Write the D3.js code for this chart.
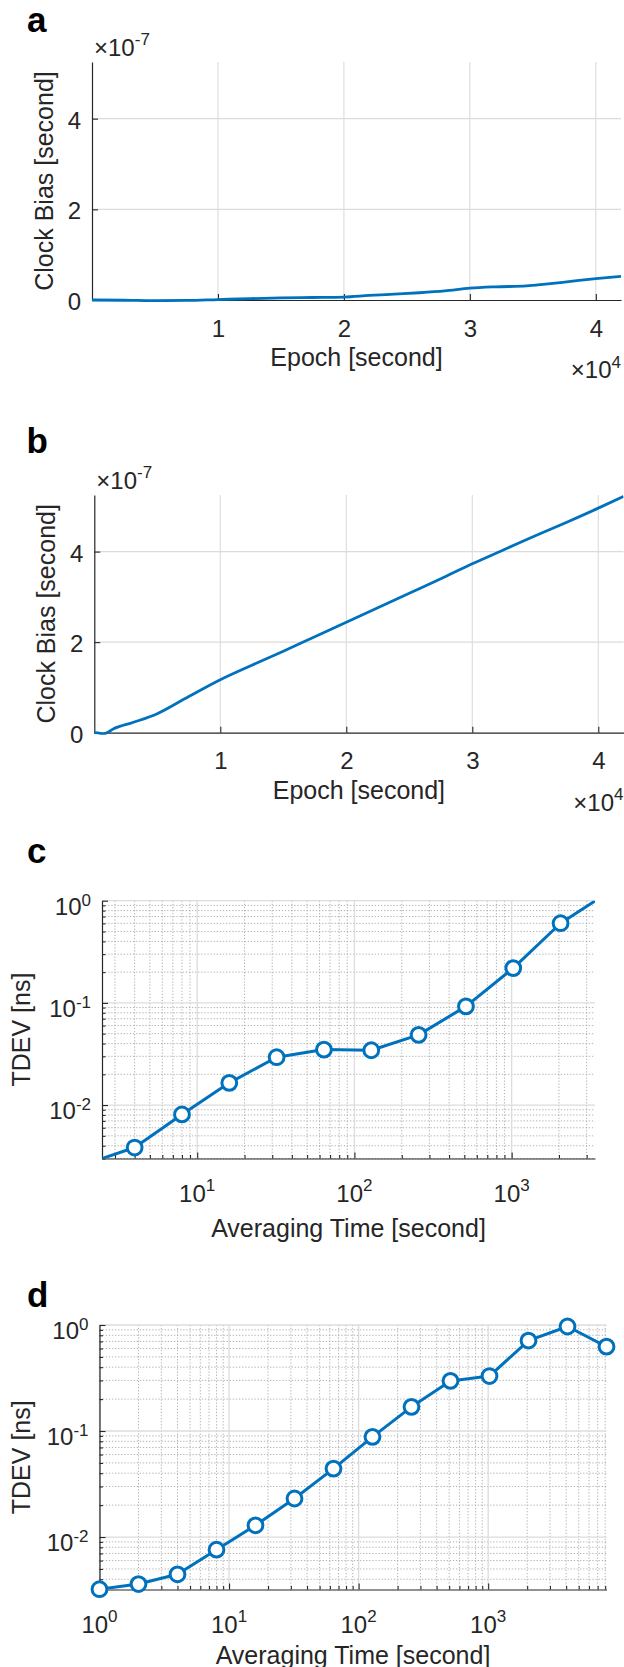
<!DOCTYPE html>
<html>
<head>
<meta charset="utf-8">
<script src="https://cdn.jsdelivr.net/npm/d3@7"></script>
<style>
  html, body { margin: 0; padding: 0; background: #fff; }
  svg { display: block; font-family: "Liberation Sans", Arial, Helvetica, sans-serif; }
</style>
</head>
<body>
<svg id="fig" width="624" height="1667"></svg>
<script>
// ---- data -------------------------------------------------------------
// (a) clock bias, epoch [s] vs bias [s]
const epochA = [0, 2500, 5000, 7500, 10000, 12500, 15000, 17500, 20000, 22000, 24000,
                26000, 28000, 30000, 32000, 34500, 36000, 38000, 40000, 42000];
const biasA  = [0, -0.005e-7, -0.015e-7, -0.01e-7, 0.01e-7, 0.03e-7, 0.045e-7, 0.055e-7,
                0.065e-7, 0.10e-7, 0.13e-7, 0.16e-7, 0.20e-7, 0.26e-7, 0.29e-7, 0.31e-7,
                0.35e-7, 0.41e-7, 0.47e-7, 0.52e-7];

// (b) clock bias, epoch [s] vs bias [s]
const epochB = [0, 400, 700, 1000, 1500, 3000, 5000, 7500, 10000, 12500, 15000, 17500,
                20000, 22500, 25000, 27500, 30000, 32500, 35000, 37500, 40000, 42000];
const biasB  = [0, -0.01e-7, -0.03e-7, 0, 0.08e-7, 0.22e-7, 0.42e-7, 0.80e-7, 1.17e-7,
                1.49e-7, 1.80e-7, 2.12e-7, 2.44e-7, 2.76e-7, 3.08e-7, 3.40e-7, 3.73e-7,
                4.04e-7, 4.35e-7, 4.65e-7, 4.96e-7, 5.22e-7];

// (c) TDEV [ns] vs averaging time [s]
const tauC  = [2, 4, 8, 16, 32, 64, 128, 256, 512, 1024, 2048, 4096];
const tdevC = [0.00268, 0.00384, 0.0081, 0.0165, 0.0294, 0.0349, 0.0344, 0.0486,
               0.0925, 0.219, 0.602, 1.20];

// (d) TDEV [ns] vs averaging time [s]
const tauD  = [1, 2, 4, 8, 16, 32, 64, 128, 256, 512, 1024, 2048, 4096, 8192];
const tdevD = [0.00322, 0.0036, 0.00445, 0.0076, 0.0129, 0.0231, 0.0442, 0.0880,
               0.169, 0.297, 0.330, 0.713, 0.968, 0.625];

// tick values
const epochTicks = [10000, 20000, 30000, 40000];
const biasTicks  = [0, 2e-7, 4e-7];

// ---- style ------------------------------------------------------------
const svg = d3.select('#fig');
const INK = '#262626';
const BLUE = '#0072BD';
const GRID = '#dcdcdc';
const MINOR = '#a9a9a9';
const TICK_FS = 24;
const LABEL_FS = 25;
const SUP_FS = 17;

function panelLetter(letter, x, y) {
  svg.append('text').attr('x', x).attr('y', y)
    .attr('font-size', 35).attr('font-weight', 'bold').attr('fill', '#000')
    .text(letter);
}

function powerText(g, x, y, base, exp, anchor, fs, supFs, rise) {
  const t = g.append('text').attr('x', x).attr('y', y)
    .attr('text-anchor', anchor).attr('fill', INK).attr('font-size', fs);
  t.append('tspan').text(base);
  t.append('tspan').attr('font-size', supFs).attr('dy', -rise).text(exp);
  return t;
}

function styleAxis(ax) {
  ax.attr('font-size', null).attr('font-family', null);
  ax.select('.domain').attr('stroke', INK).attr('stroke-width', 1.2);
  ax.selectAll('.tick line').attr('stroke', INK).attr('stroke-width', 1.1);
}

let clipId = 0;
function clipRect(p, pad) {
  const id = 'clip' + (clipId++);
  svg.append('clipPath').attr('id', id).append('rect')
    .attr('x', p.left).attr('y', p.top - pad)
    .attr('width', p.right - p.left).attr('height', p.bottom - p.top + 2 * pad);
  return `url(#${id})`;
}

// ---- linear clock bias panel -----------------------------------------
function linearPanel(p) {
  const g = svg.append('g');
  const x = d3.scaleLinear().domain([0, 42000]).range([p.left, p.right]);
  const y = d3.scaleLinear().domain([0, 5.25e-7]).range([p.bottom, p.top]);

  // grid
  g.append('g').selectAll('line').data(epochTicks).join('line')
    .attr('x1', d => x(d)).attr('x2', d => x(d))
    .attr('y1', p.top).attr('y2', p.bottom)
    .attr('stroke', GRID).attr('stroke-width', 1.1);
  g.append('g').selectAll('line').data(biasTicks.filter(d => d > 0)).join('line')
    .attr('x1', p.left).attr('x2', p.right)
    .attr('y1', d => y(d)).attr('y2', d => y(d))
    .attr('stroke', GRID).attr('stroke-width', 1.1);

  // axes
  const ax = g.append('g').attr('transform', `translate(0,${p.bottom})`)
    .call(d3.axisBottom(x).tickValues(epochTicks).tickSizeInner(-6).tickSizeOuter(0)
      .tickFormat(d => d / 1e4));
  styleAxis(ax);
  ax.selectAll('.tick text').attr('y', 36.5).attr('dy', null)
    .attr('font-size', TICK_FS).attr('fill', INK);

  const ay = g.append('g').attr('transform', `translate(${p.left},0)`)
    .call(d3.axisLeft(y).tickValues(biasTicks).tickSizeInner(-6).tickSizeOuter(0)
      .tickFormat(d => Math.round(d / 1e-7)));
  styleAxis(ay);
  ay.selectAll('.tick text').attr('x', -11).attr('dy', '0.4em')
    .attr('font-size', TICK_FS).attr('fill', INK);

  // data line
  const line = d3.line().x(d => x(d[0])).y(d => y(d[1])).curve(d3.curveMonotoneX);
  g.append('path').datum(d3.zip(p.epoch, p.bias))
    .attr('clip-path', clipRect(p, 2))
    .attr('d', line).attr('fill', 'none')
    .attr('stroke', BLUE).attr('stroke-width', 2.8).attr('stroke-linejoin', 'round');

  // exponent labels
  powerText(g, p.left + 2, p.top - 6.5, '×10', '-7', 'start', TICK_FS, SUP_FS, 10.5);
  powerText(g, p.right, p.bottom + 78, '×10', '4', 'end', TICK_FS, SUP_FS, 10.5);

  // axis titles
  g.append('text').attr('x', (p.left + p.right) / 2).attr('y', p.bottom + 66)
    .attr('text-anchor', 'middle').attr('font-size', LABEL_FS).attr('fill', INK)
    .text('Epoch [second]');
  g.append('text')
    .attr('transform', `translate(${p.left - 39},${(p.top + p.bottom) / 2}) rotate(-90)`)
    .attr('text-anchor', 'middle').attr('font-size', LABEL_FS).attr('fill', INK)
    .text('Clock Bias [second]');
}

// ---- log-log TDEV panel ----------------------------------------------
function logPanel(p) {
  const g = svg.append('g');
  const x = d3.scaleLog().domain(p.xDomain).range([p.left, p.right]);
  const y = d3.scaleLog().domain(p.yDomain).range([p.bottom, p.top]);
  const isMajor = v => Math.abs(Math.log10(v) - Math.round(Math.log10(v))) < 1e-9;
  const xt = x.ticks();
  const yt = y.ticks();

  // minor grid (dotted), then major grid
  g.append('g').selectAll('line').data(xt.filter(v => !isMajor(v))).join('line')
    .attr('x1', d => x(d)).attr('x2', d => x(d)).attr('y1', p.top).attr('y2', p.bottom)
    .attr('stroke', MINOR).attr('stroke-width', 0.9).attr('stroke-dasharray', '1.3,1.8');
  g.append('g').selectAll('line').data(yt.filter(v => !isMajor(v))).join('line')
    .attr('x1', p.left).attr('x2', p.right).attr('y1', d => y(d)).attr('y2', d => y(d))
    .attr('stroke', MINOR).attr('stroke-width', 0.9).attr('stroke-dasharray', '1.3,1.8');
  g.append('g').selectAll('line').data(xt.filter(isMajor)).join('line')
    .attr('x1', d => x(d)).attr('x2', d => x(d)).attr('y1', p.top).attr('y2', p.bottom)
    .attr('stroke', GRID).attr('stroke-width', 1.3);
  g.append('g').selectAll('line').data(yt.filter(isMajor)).join('line')
    .attr('x1', p.left).attr('x2', p.right).attr('y1', d => y(d)).attr('y2', d => y(d))
    .attr('stroke', GRID).attr('stroke-width', 1.3);

  // axes with inward major/minor ticks
  const ax = g.append('g').attr('transform', `translate(0,${p.bottom})`)
    .call(d3.axisBottom(x).tickValues(xt).tickSizeInner(-6).tickSizeOuter(0).tickFormat(''));
  styleAxis(ax);
  ax.selectAll('.tick line').attr('y2', d => isMajor(d) ? -6 : -3.5);
  const ay = g.append('g').attr('transform', `translate(${p.left},0)`)
    .call(d3.axisLeft(y).tickValues(yt).tickSizeInner(-6).tickSizeOuter(0).tickFormat(''));
  styleAxis(ay);
  ay.selectAll('.tick line').attr('x2', d => isMajor(d) ? 6 : 3.5);

  // decade labels
  xt.filter(isMajor).forEach(v => {
    powerText(g, x(v), p.bottom + 43, '10', String(Math.round(Math.log10(v))),
      'middle', TICK_FS, SUP_FS, 10.5);
  });
  yt.filter(isMajor).forEach(v => {
    powerText(g, p.left - 11, y(v) + 14, '10', String(Math.round(Math.log10(v))),
      'end', TICK_FS, SUP_FS, 9);
  });

  // data line (clipped to the axes) and circle markers
  const pts = d3.zip(p.tau, p.tdev);
  const line = d3.line().x(d => x(d[0])).y(d => y(d[1]));
  g.append('path').datum(pts)
    .attr('clip-path', clipRect(p, 0))
    .attr('d', line).attr('fill', 'none')
    .attr('stroke', BLUE).attr('stroke-width', 3).attr('stroke-linejoin', 'round');
  const [x0, x1] = p.xDomain, [y0, y1] = p.yDomain;
  g.append('g').selectAll('circle')
    .data(pts.filter(d => d[0] >= x0 && d[0] <= x1 && d[1] >= y0 * 0.999 && d[1] <= y1))
    .join('circle')
    .attr('cx', d => x(d[0])).attr('cy', d => y(d[1])).attr('r', 7.4)
    .attr('fill', '#fff').attr('stroke', BLUE).attr('stroke-width', 3);

  // axis titles
  g.append('text').attr('x', (p.left + p.right) / 2).attr('y', p.bottom + p.titleGap)
    .attr('text-anchor', 'middle').attr('font-size', LABEL_FS).attr('fill', INK)
    .text('Averaging Time [second]');
  g.append('text')
    .attr('transform', `translate(30,${(p.top + p.bottom) / 2}) rotate(-90)`)
    .attr('text-anchor', 'middle').attr('font-size', LABEL_FS).attr('fill', INK)
    .text('TDEV [ns]');
}

// ---- figure -----------------------------------------------------------
panelLetter('a', 27, 32);
linearPanel({ left: 92, right: 621, top: 62, bottom: 300, epoch: epochA, bias: biasA });

panelLetter('b', 26.5, 453);
linearPanel({ left: 94.3, right: 623.5, top: 495, bottom: 732.7, epoch: epochB, bias: biasB });

panelLetter('c', 27, 863);
logPanel({ left: 102, right: 595, top: 900.7, bottom: 1158.5, titleGap: 78,
           xDomain: [2.48, 3390], yDomain: [0.003, 1], tau: tauC, tdev: tdevC });

panelLetter('d', 27, 1306.5);
logPanel({ left: 99.5, right: 606.5, top: 1325, bottom: 1589.5, titleGap: 74,
           xDomain: [1, 8192], yDomain: [0.0032, 1], tau: tauD, tdev: tdevD });
</script>
</body>
</html>
